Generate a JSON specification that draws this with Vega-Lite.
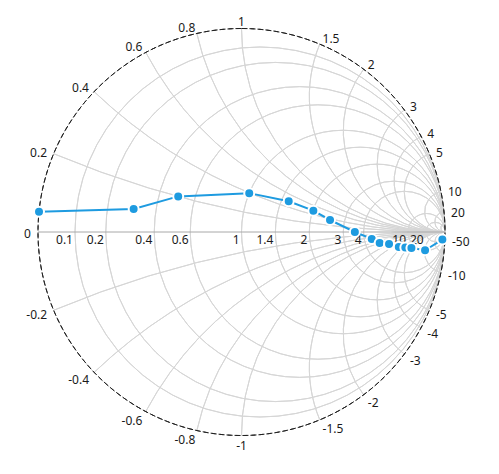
{
  "$schema": "https://vega.github.io/schema/vega-lite/v6.json",
  "width": 407,
  "height": 407,
  "autosize": {"type": "none"},
  "padding": {"left": 38, "top": 28.5, "right": 54, "bottom": 38.5},
  "background": "white",
  "config": {"view": {"stroke": null}, "text": {"font": "Segoe UI, Noto Sans", "fontSize": 12, "color": "#1a1a1a"}},
  "layer": [
    {
      "data": {"values": [
        {"k": "r0.1", "cx": 0.0909, "cy": 0, "rad": 0.9091, "t1": 0, "t2": 360},
        {"k": "r0.2", "cx": 0.1667, "cy": 0, "rad": 0.8333, "t1": 0, "t2": 360},
        {"k": "r0.4", "cx": 0.2857, "cy": 0, "rad": 0.7143, "t1": 0, "t2": 360},
        {"k": "r0.6", "cx": 0.375, "cy": 0, "rad": 0.625, "t1": 0, "t2": 360},
        {"k": "r1", "cx": 0.5, "cy": 0, "rad": 0.5, "t1": 0, "t2": 360},
        {"k": "r1.4", "cx": 0.5833, "cy": 0, "rad": 0.4167, "t1": 0, "t2": 360},
        {"k": "r2", "cx": 0.6667, "cy": 0, "rad": 0.3333, "t1": 0, "t2": 360},
        {"k": "r3", "cx": 0.75, "cy": 0, "rad": 0.25, "t1": 0, "t2": 360},
        {"k": "r4", "cx": 0.8, "cy": 0, "rad": 0.2, "t1": 0, "t2": 360},
        {"k": "r10", "cx": 0.9091, "cy": 0, "rad": 0.0909, "t1": 0, "t2": 360},
        {"k": "r20", "cx": 0.9524, "cy": 0, "rad": 0.0476, "t1": 0, "t2": 360},
        {"k": "x0.2", "cx": 1, "cy": 5, "rad": 5, "t1": 180, "t2": 202.62},
        {"k": "x0.4", "cx": 1, "cy": 2.5, "rad": 2.5, "t1": 180, "t2": 223.6},
        {"k": "x0.6", "cx": 1, "cy": 1.6667, "rad": 1.6667, "t1": 180, "t2": 241.93},
        {"k": "x0.8", "cx": 1, "cy": 1.25, "rad": 1.25, "t1": 180, "t2": 257.32},
        {"k": "x1", "cx": 1, "cy": 1, "rad": 1, "t1": 180, "t2": 270},
        {"k": "x1.5", "cx": 1, "cy": 0.6667, "rad": 0.6667, "t1": 180, "t2": 292.62},
        {"k": "x2", "cx": 1, "cy": 0.5, "rad": 0.5, "t1": 180, "t2": 306.87},
        {"k": "x3", "cx": 1, "cy": 0.3333, "rad": 0.3333, "t1": 180, "t2": 323.13},
        {"k": "x4", "cx": 1, "cy": 0.25, "rad": 0.25, "t1": 180, "t2": 331.93},
        {"k": "x5", "cx": 1, "cy": 0.2, "rad": 0.2, "t1": 180, "t2": 337.38},
        {"k": "x10", "cx": 1, "cy": 0.1, "rad": 0.1, "t1": 180, "t2": 348.58},
        {"k": "x20", "cx": 1, "cy": 0.05, "rad": 0.05, "t1": 180, "t2": 354.28},
        {"k": "x50", "cx": 1, "cy": 0.02, "rad": 0.02, "t1": 180, "t2": 357.71},
        {"k": "x-0.2", "cx": 1, "cy": -5, "rad": 5, "t1": 337.38, "t2": 360},
        {"k": "x-0.4", "cx": 1, "cy": -2.5, "rad": 2.5, "t1": 316.4, "t2": 360},
        {"k": "x-0.6", "cx": 1, "cy": -1.6667, "rad": 1.6667, "t1": 298.07, "t2": 360},
        {"k": "x-0.8", "cx": 1, "cy": -1.25, "rad": 1.25, "t1": 282.68, "t2": 360},
        {"k": "x-1", "cx": 1, "cy": -1, "rad": 1, "t1": 270, "t2": 360},
        {"k": "x-1.5", "cx": 1, "cy": -0.6667, "rad": 0.6667, "t1": 247.38, "t2": 360},
        {"k": "x-2", "cx": 1, "cy": -0.5, "rad": 0.5, "t1": 233.13, "t2": 360},
        {"k": "x-3", "cx": 1, "cy": -0.3333, "rad": 0.3333, "t1": 216.87, "t2": 360},
        {"k": "x-4", "cx": 1, "cy": -0.25, "rad": 0.25, "t1": 208.07, "t2": 360},
        {"k": "x-5", "cx": 1, "cy": -0.2, "rad": 0.2, "t1": 202.62, "t2": 360},
        {"k": "x-10", "cx": 1, "cy": -0.1, "rad": 0.1, "t1": 191.42, "t2": 360},
        {"k": "x-20", "cx": 1, "cy": -0.05, "rad": 0.05, "t1": 185.72, "t2": 360},
        {"k": "x-50", "cx": 1, "cy": -0.02, "rad": 0.02, "t1": 182.29, "t2": 360}
      ]},
      "mark": {"type": "arc", "filled": false, "stroke": "#d6d6d6", "strokeWidth": 1},
      "encoding": {
        "x": {"field": "cx", "type": "quantitative", "scale": {"domain": [-1, 1], "nice": false, "zero": false}, "axis": null},
        "y": {"field": "cy", "type": "quantitative", "scale": {"domain": [-1, 1], "nice": false, "zero": false}, "axis": null},
        "theta": {"field": "t1", "type": "quantitative", "stack": null, "scale": {"domain": [0, 360], "range": [0, 6.283185307179586]}},
        "theta2": {"field": "t2"},
        "radius": {"field": "rad", "type": "quantitative", "scale": {"type": "linear", "domain": [0, 1], "range": [0, 203.5], "zero": true}},
        "radius2": {"field": "rad"}
      }
    },
    {
      "data": {"values": [{"x1": -1, "x2": 1, "y": 0}]},
      "mark": {"type": "rule", "stroke": "#a8a8a8", "strokeWidth": 1},
      "encoding": {
        "x": {"field": "x1", "type": "quantitative"},
        "x2": {"field": "x2"},
        "y": {"field": "y", "type": "quantitative"}
      }
    },
    {
      "data": {"values": [{"cx": 0, "cy": 0, "rad": 1, "t1": 0, "t2": 360}]},
      "mark": {"type": "arc", "filled": false, "stroke": "#222222", "strokeWidth": 1, "strokeDash": [5, 3]},
      "encoding": {
        "x": {"field": "cx", "type": "quantitative"},
        "y": {"field": "cy", "type": "quantitative"},
        "theta": {"field": "t1", "type": "quantitative", "stack": null},
        "theta2": {"field": "t2"},
        "radius": {"field": "rad", "type": "quantitative"},
        "radius2": {"field": "rad"}
      }
    },
    {
      "data": {"values": [
        {"lab": "0.1", "gx": -0.8182, "gy": 0},
        {"lab": "0.2", "gx": -0.6667, "gy": 0},
        {"lab": "0.4", "gx": -0.4286, "gy": 0},
        {"lab": "0.6", "gx": -0.25, "gy": 0},
        {"lab": "1", "gx": 0, "gy": 0},
        {"lab": "1.4", "gx": 0.1667, "gy": 0},
        {"lab": "2", "gx": 0.3333, "gy": 0},
        {"lab": "3", "gx": 0.5, "gy": 0},
        {"lab": "4", "gx": 0.6, "gy": 0},
        {"lab": "10", "gx": 0.8182, "gy": 0},
        {"lab": "20", "gx": 0.9048, "gy": 0}
      ]},
      "mark": {"type": "text", "align": "right", "baseline": "middle", "dx": -2, "dy": 8},
      "encoding": {
        "x": {"field": "gx", "type": "quantitative"},
        "y": {"field": "gy", "type": "quantitative"},
        "text": {"field": "lab"}
      }
    },
    {
      "data": {"values": [
        {"lab": "0", "gx": -1.035, "gy": 0},
        {"lab": "0.2", "gx": -0.9554, "gy": 0.4},
        {"lab": "0.4", "gx": -0.7494, "gy": 0.7172},
        {"lab": "0.6", "gx": -0.4871, "gy": 0.9177},
        {"lab": "0.8", "gx": -0.2272, "gy": 1.0146},
        {"lab": "-0.2", "gx": -0.9554, "gy": -0.4},
        {"lab": "-0.4", "gx": -0.7494, "gy": -0.7172},
        {"lab": "-0.6", "gx": -0.4871, "gy": -0.9177},
        {"lab": "-0.8", "gx": -0.2272, "gy": -1.0146}
      ]},
      "mark": {"type": "text", "align": "right", "baseline": "middle", "dy": 2},
      "encoding": {
        "x": {"field": "gx", "type": "quantitative"},
        "y": {"field": "gy", "type": "quantitative"},
        "text": {"field": "lab"}
      }
    },
    {
      "data": {"values": [
        {"lab": "1", "gx": 0, "gy": 1.04},
        {"lab": "-1", "gx": 0, "gy": -1.04}
      ]},
      "mark": {"type": "text", "align": "center", "baseline": "middle", "dy": 2},
      "encoding": {
        "x": {"field": "gx", "type": "quantitative"},
        "y": {"field": "gy", "type": "quantitative"},
        "text": {"field": "lab"}
      }
    },
    {
      "data": {"values": [
        {"lab": "1.5", "gx": 0.3981, "gy": 0.96},
        {"lab": "2", "gx": 0.621, "gy": 0.832},
        {"lab": "3", "gx": 0.828, "gy": 0.624},
        {"lab": "4", "gx": 0.9133, "gy": 0.4894},
        {"lab": "5", "gx": 0.9554, "gy": 0.4},
        {"lab": "10", "gx": 1.0145, "gy": 0.2059},
        {"lab": "20", "gx": 1.0298, "gy": 0.1037},
        {"lab": "-50", "gx": 1.0342, "gy": -0.0416},
        {"lab": "-10", "gx": 1.0145, "gy": -0.2059},
        {"lab": "-5", "gx": 0.9554, "gy": -0.4},
        {"lab": "-4", "gx": 0.9133, "gy": -0.4894},
        {"lab": "-3", "gx": 0.828, "gy": -0.624},
        {"lab": "-2", "gx": 0.621, "gy": -0.832},
        {"lab": "-1.5", "gx": 0.3981, "gy": -0.96}
      ]},
      "mark": {"type": "text", "align": "left", "baseline": "middle", "dy": 2},
      "encoding": {
        "x": {"field": "gx", "type": "quantitative"},
        "y": {"field": "gy", "type": "quantitative"},
        "text": {"field": "lab"}
      }
    },
    {
      "data": {"name": "series", "values": [
        {"i": 1, "gx": -0.995, "gy": 0.1},
        {"i": 2, "gx": -0.53, "gy": 0.113},
        {"i": 3, "gx": -0.311, "gy": 0.175},
        {"i": 4, "gx": 0.038, "gy": 0.191},
        {"i": 5, "gx": 0.232, "gy": 0.151},
        {"i": 6, "gx": 0.353, "gy": 0.105},
        {"i": 7, "gx": 0.435, "gy": 0.059},
        {"i": 8, "gx": 0.557, "gy": 0.0},
        {"i": 9, "gx": 0.64, "gy": -0.034},
        {"i": 10, "gx": 0.679, "gy": -0.054},
        {"i": 11, "gx": 0.725, "gy": -0.059},
        {"i": 12, "gx": 0.773, "gy": -0.074},
        {"i": 13, "gx": 0.805, "gy": -0.076},
        {"i": 14, "gx": 0.835, "gy": -0.079},
        {"i": 15, "gx": 0.902, "gy": -0.09},
        {"i": 16, "gx": 0.987, "gy": -0.037}
      ]},
      "layer": [
        {
          "mark": {"type": "line", "color": "#1e9be0", "strokeWidth": 2},
          "encoding": {
            "x": {"field": "gx", "type": "quantitative"},
            "y": {"field": "gy", "type": "quantitative"},
            "order": {"field": "i", "type": "quantitative"}
          }
        },
        {
          "mark": {"type": "point", "shape": "circle", "filled": true, "fill": "#1e9be0", "stroke": "white", "strokeWidth": 2, "size": 100, "opacity": 1},
          "encoding": {
            "x": {"field": "gx", "type": "quantitative"},
            "y": {"field": "gy", "type": "quantitative"}
          }
        }
      ]
    }
  ]
}
